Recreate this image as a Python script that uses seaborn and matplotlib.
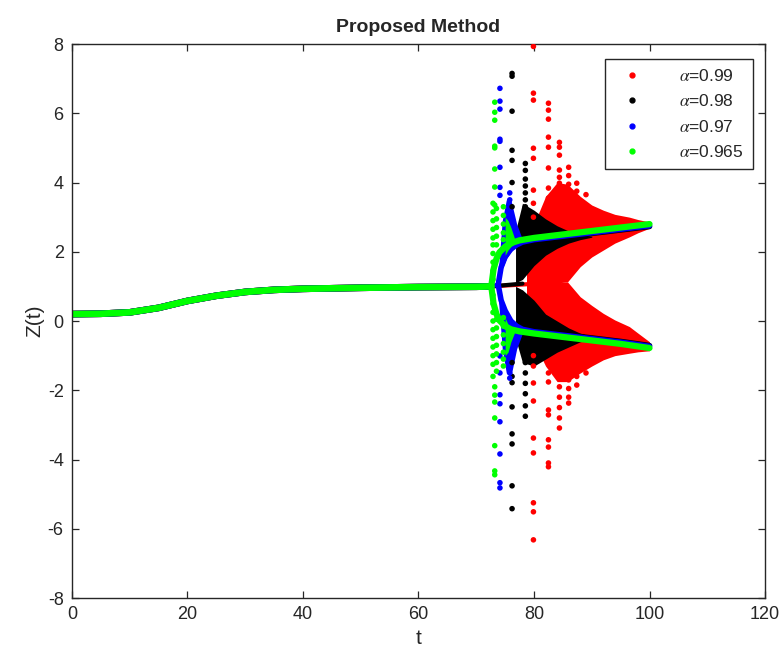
import matplotlib
matplotlib.use("Agg")
import matplotlib.pyplot as plt
import seaborn as sns
from matplotlib.lines import Line2D

# ---------------- data ----------------
labels = ["0.99", "0.98", "0.97", "0.965"]
colors = ["#ff0000", "#000000", "#0000ff", "#00ff00"]

# smooth pre-bifurcation part (identical for all alpha values)
smooth_t = [0, 5, 10, 15, 20, 25, 30, 35, 40, 50, 60, 70, 72.6]
smooth_z = [0.20, 0.21, 0.25, 0.38, 0.58, 0.73, 0.84, 0.90, 0.93, 0.96, 0.98, 0.99, 1.00]

# centre (unstable) value kept after the smooth part, until spreading
red_center_t = [72.6, 84.5]
red_center_z = [1.00, 1.12]
black_center_t = [72.6, 78.0]
black_center_z = [1.00, 1.08]
blue_center_t = [72.6, 73.8]
blue_center_z = [1.00, 1.05]

# dense bands: upper band (outer / inner), lower band (inner / outer)
red_band_t = [78.7, 80.0, 82.0, 84.0, 85.8, 88.0, 90.0, 92.0, 94.0, 96.5, 98.0, 100.0]
red_up_out = [1.6, 2.8, 3.6, 4.0, 3.95, 3.6, 3.35, 3.2, 3.08, 3.0, 2.93, 2.86]
red_up_in = [1.1, 1.1, 1.1, 1.1, 1.13, 1.57, 1.85, 2.05, 2.25, 2.43, 2.55, 2.68]
red_lo_in = [1.1, 1.1, 1.1, 1.1, 1.13, 0.70, 0.45, 0.22, 0.03, -0.16, -0.35, -0.60]
red_lo_out = [0.6, -0.6, -1.3, -1.75, -1.75, -1.50, -1.30, -1.12, -1.00, -0.93, -0.89, -0.86]

black_band_t = [76.8, 78.0, 80.0, 82.0, 84.0, 86.0, 88.0, 90.0]
black_up_out = [2.6, 3.4, 3.2, 2.95, 2.75, 2.6, 2.5, 2.45]
black_up_in = [1.1, 1.2, 1.6, 1.9, 2.1, 2.25, 2.35, 2.42]
black_lo_in = [1.0, 0.9, 0.6, 0.2, 0.0, -0.2, -0.35, -0.45]
black_lo_out = [-0.5, -1.2, -1.3, -1.1, -0.9, -0.75, -0.6, -0.52]

blue_band_t = [73.8, 74.5, 75.2, 76.0, 77.0, 78.0]
blue_up_out = [1.4, 2.9, 3.5, 3.5, 2.8, 2.35]
blue_up_in = [1.1, 1.5, 1.8, 2.0, 2.15, 2.28]
blue_lo_in = [0.9, 0.6, 0.3, 0.0, -0.15, -0.25]
blue_lo_out = [0.7, -0.8, -1.5, -1.6, -0.8, -0.35]

# green band right after the bifurcation
green_band_t = [75.0, 75.5, 76.0, 76.6]
green_up_out = [3.0, 2.9, 2.7, 2.4]
green_up_in = [1.9, 2.05, 2.15, 2.22]
green_lo_in = [0.1, -0.1, -0.2, -0.27]
green_lo_out = [-1.0, -0.9, -0.6, -0.35]

# converged period-2 branches
green_br_t = [72.6, 73.0, 73.5, 74.0, 75.0, 76.0, 77.5, 80.0, 85.0, 90.0, 95.0, 100.0]
green_br_up = [1.00, 1.50, 1.80, 1.98, 2.15, 2.25, 2.33, 2.40, 2.50, 2.60, 2.70, 2.80]
green_br_lo = [1.00, 0.50, 0.20, 0.02, -0.15, -0.24, -0.30, -0.36, -0.46, -0.56, -0.66, -0.78]
blue_br_t = [73.8, 74.3, 75.0, 76.0, 77.0, 78.0, 80.0, 85.0, 90.0, 95.0, 100.0]
blue_br_up = [1.05, 1.55, 1.85, 2.08, 2.20, 2.28, 2.35, 2.45, 2.55, 2.65, 2.75]
blue_br_lo = [1.05, 0.60, 0.30, 0.00, -0.15, -0.24, -0.31, -0.41, -0.51, -0.61, -0.73]
black_br_t = [80.0, 85.0, 90.0, 95.0, 100.0]
black_br_up = [2.33, 2.43, 2.53, 2.63, 2.73]
black_br_lo = [-0.29, -0.39, -0.49, -0.59, -0.71]

# transient points (column t, list of z values)
red_cols_t = [79.9, 82.5, 84.4, 86.0, 87.4, 89.0]
red_cols_z = [
    [7.93, 6.58, 6.38, 4.99, 4.70, 3.78, 3.40, 3.00, -1.00, -1.30, -1.79, -2.31, -3.38, -3.81, -5.25, -5.51, -6.32],
    [6.29, 6.09, 5.83, 5.31, 5.02, 4.42, 3.84, 3.55, -1.50, -1.76, -2.57, -2.71, -3.43, -3.64, -4.10, -4.21],
    [5.16, 5.02, 4.79, 4.36, 4.15, 3.98, -1.60, -1.90, -2.20, -2.50, -2.80, -3.09],
    [4.44, 4.20, 3.95, 3.70, -1.70, -1.95, -2.20, -2.37],
    [3.98, 3.75, 3.50, -1.60, -1.85],
    [3.65, -1.50],
]
black_cols_t = [76.2, 78.5]
black_cols_z = [
    [7.15, 7.07, 6.06, 4.93, 4.64, 4.00, 3.30, -1.20, -1.60, -1.78, -2.48, -3.26, -3.55, -4.76, -5.42],
    [4.55, 4.35, 4.10, 3.90, 3.70, 3.50, 3.30, 3.10, 2.90, -0.90, -1.20, -1.50, -1.80, -2.10, -2.45, -2.75],
]
blue_cols_t = [74.1, 75.8]
blue_cols_z = [
    [6.72, 6.35, 6.12, 5.25, 5.19, 4.44, 3.86, 3.63, -1.01, -1.50, -2.13, -2.39, -2.91, -3.84, -4.67, -4.82],
    [3.70, 3.50, -1.50, -1.65],
]
green_cols_t = [73.2, 72.9, 73.5, 74.7]
green_cols_z = [
    [6.32, 6.03, 5.80, 5.05, 5.00, 4.39, 3.87, 3.35, -1.90, -2.14, -2.34, -2.80, -3.60, -4.33, -4.44],
    [3.40, 3.15, 2.90, 2.65, 2.40, 2.20, 1.95, 1.70, 1.45, 1.20, 0.75, 0.50, 0.25, 0.00, -0.25,
     -0.50, -0.75, -1.00, -1.25, -1.60],
    [3.25, 2.95, 2.70, 2.45, 2.20, 0.05, -0.20, -0.45, -0.70, -0.95, -1.20, -1.45],
    [3.30, 3.05, 2.80, 2.55, 2.35, 0.10, -0.15, -0.40, -0.65, -0.90, -1.10, -1.30],
]

# ---------------- drawing ----------------
sns.set_style("ticks")
plt.rcParams["font.family"] = ["Liberation Sans", "DejaVu Sans"]
plt.rcParams["mathtext.fontset"] = "stix"
plt.rcParams["axes.unicode_minus"] = False

fig = plt.figure(figsize=(7.84, 6.54), dpi=100)
ax = fig.add_axes([0.0918, 0.0856, 0.8840, 0.8471])

LW = 4.8
S = 16


def draw_cols(cols_t, cols_z, color, z_order=3):
    xs, ys = [], []
    for t, zs in zip(cols_t, cols_z):
        for z in zs:
            xs.append(t)
            ys.append(z)
    sns.scatterplot(x=xs, y=ys, color=color, s=S, edgecolor="none", ax=ax, legend=False, zorder=z_order)


def draw_band(t, uo, ui, li, lo, color, z_order=2):
    ax.fill_between(t, ui, uo, color=color, linewidth=0, zorder=z_order)
    ax.fill_between(t, lo, li, color=color, linewidth=0, zorder=z_order)


def line(t, z, color, lw=LW, z_order=2.5):
    sns.lineplot(x=t, y=z, color=color, linewidth=lw, sort=False, estimator=None,
                 ax=ax, legend=False, zorder=z_order, solid_capstyle="round")


# red
line(smooth_t, smooth_z, colors[0])
line(red_center_t, red_center_z, colors[0], lw=3)
draw_band(red_band_t, red_up_out, red_up_in, red_lo_in, red_lo_out, colors[0])
draw_cols(red_cols_t, red_cols_z, colors[0])
# black
line(smooth_t, smooth_z, colors[1])
line(black_center_t, black_center_z, colors[1], lw=3)
draw_band(black_band_t, black_up_out, black_up_in, black_lo_in, black_lo_out, colors[1])
line(black_br_t, black_br_up, colors[1], lw=4)
line(black_br_t, black_br_lo, colors[1], lw=4)
draw_cols(black_cols_t, black_cols_z, colors[1])
# blue
line(smooth_t, smooth_z, colors[2])
line(blue_center_t, blue_center_z, colors[2], lw=3)
draw_band(blue_band_t, blue_up_out, blue_up_in, blue_lo_in, blue_lo_out, colors[2])
line(blue_br_t, blue_br_up, colors[2], lw=4)
line(blue_br_t, blue_br_lo, colors[2], lw=4)
draw_cols(blue_cols_t, blue_cols_z, colors[2])
# green (on top)
line(smooth_t, smooth_z, colors[3])
draw_band(green_band_t, green_up_out, green_up_in, green_lo_in, green_lo_out, colors[3], z_order=2.6)
line(green_br_t, green_br_up, colors[3], lw=4.5, z_order=2.7)
line(green_br_t, green_br_lo, colors[3], lw=4.5, z_order=2.7)
draw_cols(green_cols_t, green_cols_z, colors[3], z_order=3.2)

# axes styling (MATLAB-like box with inward ticks)
ax.set_xlim(0, 120)
ax.set_ylim(-8, 8)
ax.set_xticks([0, 20, 40, 60, 80, 100, 120])
ax.set_yticks([-8, -6, -4, -2, 0, 2, 4, 6, 8])
ax.tick_params(direction="in", length=5, width=0.9, top=True, right=True,
               labelsize=13, colors="#262626", pad=6)
for sp in ax.spines.values():
    sp.set_visible(True)
    sp.set_color("#262626")
    sp.set_linewidth(1.0)
ax.set_title("Proposed Method", fontsize=14, fontweight="bold", pad=9)
ax.set_xlabel("t", fontsize=15, labelpad=4)
ax.set_ylabel("Z(t)", fontsize=15, labelpad=2)

handles = [Line2D([], [], marker="o", linestyle="none", color=c, markersize=3.5) for c in colors]
leg = ax.legend(handles, [r"$\alpha$=" + l for l in labels], loc="upper right",
                bbox_to_anchor=(0.982, 0.973), fontsize=12.5, frameon=True, fancybox=False,
                edgecolor="#262626", framealpha=1, handletextpad=1.6, handlelength=2.2,
                labelspacing=0.55, borderpad=0.5, borderaxespad=0)
leg.get_frame().set_linewidth(1.0)

fig.savefig("out.png", dpi=100)
